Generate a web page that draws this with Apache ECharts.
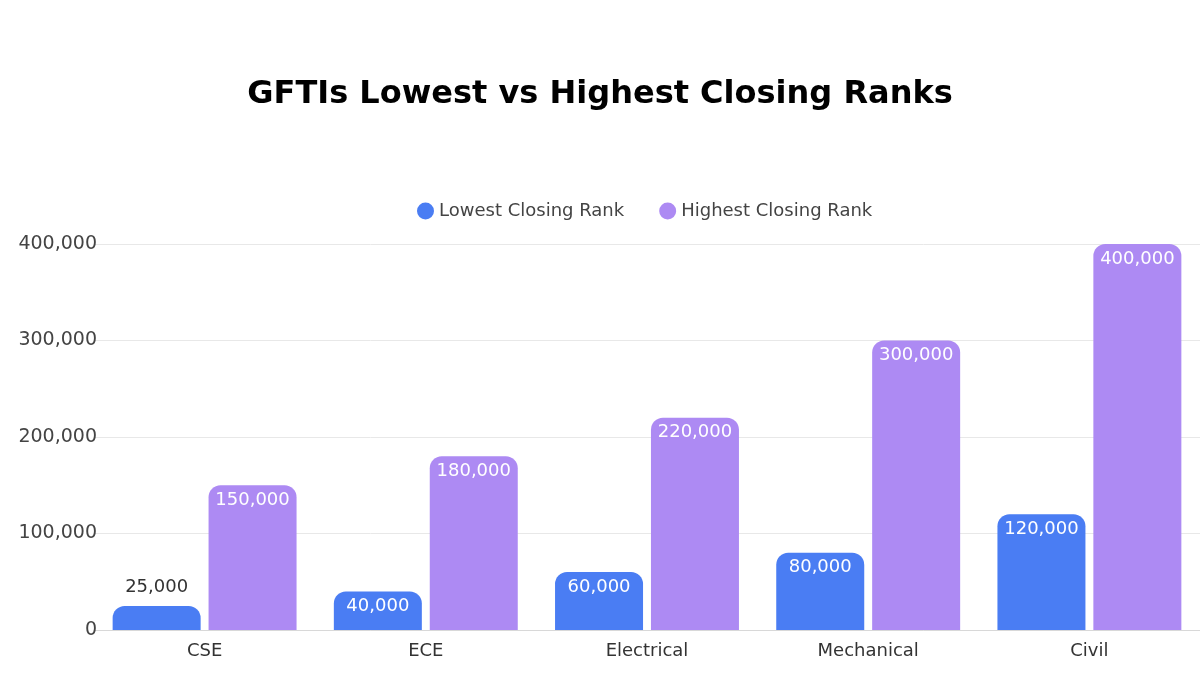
<!DOCTYPE html>
<html>
<head>
<meta charset="utf-8">
<script src="https://cdn.jsdelivr.net/npm/echarts@6/dist/echarts.min.js"></script>
<style>html,body{margin:0;padding:0;background:#fff}#c{width:1200px;height:674px}</style>
</head>
<body>
<div id="c"></div>
<script>
const categories = ['CSE', 'ECE', 'Electrical', 'Mechanical', 'Civil'];
const lowestRank = [25000, 40000, 60000, 80000, 120000];
const highestRank = [150000, 180000, 220000, 300000, 400000];
const seriesNames = ['Lowest Closing Rank', 'Highest Closing Rank'];
const yTicks = [0, 100000, 200000, 300000, 400000];

const fmt = v => Number(v).toLocaleString('en-US');
const FONT = "'DejaVu Sans', sans-serif";

function labelFor(v, inside) {
  return inside
    ? { value: v }
    : { value: v, label: { position: 'top', color: '#333', distance: 10 } };
}

const chart = echarts.init(document.getElementById('c'));
chart.setOption({
  backgroundColor: '#fff',
  animation: false,
  title: {
    text: 'GFTIs Lowest vs Highest Closing Ranks',
    left: 'center', top: 74,
    textStyle: { fontFamily: FONT, fontSize: 32, fontWeight: 'bold', color: '#000' }
  },
  legend: {
    left: 412, top: 197,
    icon: 'circle', itemWidth: 17, itemHeight: 17, itemGap: 35,
    textStyle: { fontFamily: FONT, fontSize: 18, color: '#444' }
  },
  grid: { left: 94, right: 0, top: 244, bottom: 44 },
  xAxis: {
    type: 'category', data: categories,
    axisLine: { lineStyle: { color: '#d8d8d8' } },
    axisTick: { show: false },
    axisLabel: { fontFamily: FONT, fontSize: 18, color: '#333', margin: 12 }
  },
  yAxis: {
    type: 'value', min: yTicks[0], max: yTicks[yTicks.length - 1], interval: yTicks[1] - yTicks[0],
    axisLine: { show: false }, axisTick: { show: false },
    splitLine: { lineStyle: { color: '#e8e8e8' } },
    axisLabel: { fontFamily: FONT, fontSize: 19, color: '#444', margin: -3, formatter: fmt }
  },
  series: [
    {
      name: seriesNames[0], type: 'bar',
      data: lowestRank.map(v => labelFor(v, v >= 30000)),
      barWidth: 88, barGap: '9%',
      itemStyle: { color: '#4a7df3', borderRadius: [12, 12, 0, 0] },
      label: {
        show: true, fontFamily: FONT, fontSize: 18,
        position: 'insideTop', distance: 6, color: '#fff',
        formatter: p => fmt(p.value)
      }
    },
    {
      name: seriesNames[1], type: 'bar',
      data: highestRank.map(v => labelFor(v, true)),
      barWidth: 88,
      itemStyle: { color: '#ad8af3', borderRadius: [12, 12, 0, 0] },
      label: {
        show: true, fontFamily: FONT, fontSize: 18,
        position: 'insideTop', distance: 6, color: '#fff',
        formatter: p => fmt(p.value)
      }
    }
  ]
});
</script>
</body>
</html>
